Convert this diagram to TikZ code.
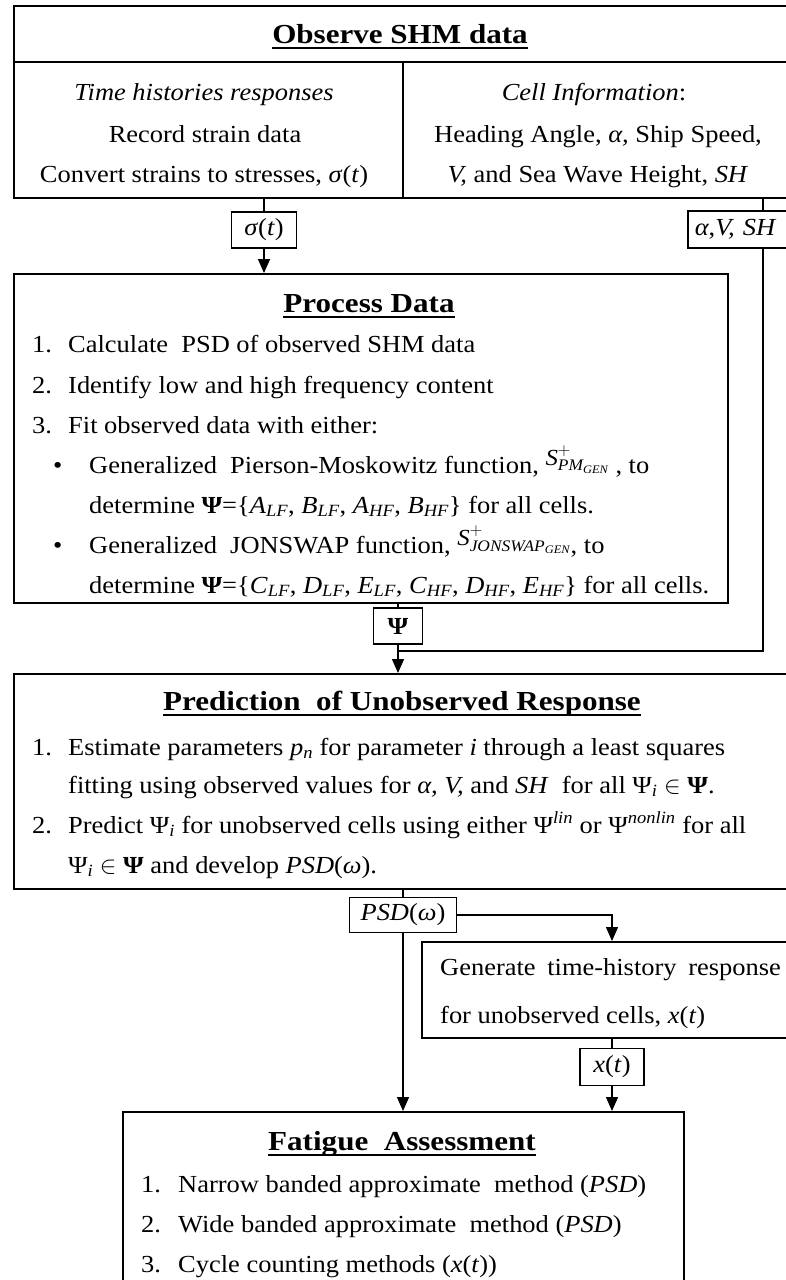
\documentclass[tikz,border=0pt]{standalone}
\usepackage{amsmath}
\usepackage{fontspec}
\setmainfont{Liberation Serif}[FakeStretch=1.08]
\newfontfamily\headfont{Liberation Serif}[FakeStretch=1.13]
\usetikzlibrary{arrows.meta}

% text sizes
\newcommand{\bodysize}{\fontsize{24.5}{30}\selectfont}
\newcommand{\headsize}{\headfont\fontsize{27.5}{32}\selectfont\bfseries}
% heading with a heavy underline
\newcommand{\heading}[1]{\setbox0\hbox{#1}\rlap{\rule[-6pt]{\wd0}{2.4pt}}\box0}
% italic subscript / superscript in running text
\newcommand{\isub}[1]{$_{\textit{#1}}$}
\newcommand{\isup}[1]{$^{\textit{#1}}$}
\newcommand{\spec}[1]{\raisebox{8pt}{\fontsize{23}{23}\selectfont$\textit{S}^{+}_{\textit{#1}_{\textit{GEN}}}$}}

\tikzset{
  box/.style={draw, line width=1.6pt, inner sep=0pt, anchor=north west},
  tag/.style={draw, line width=1.6pt, inner sep=0pt, font=\bodysize},
  txt/.style={inner sep=0pt, font=\bodysize},
  head/.style={inner sep=0pt, font=\headsize, anchor=base},
  link/.style={line width=1.4pt},
  arr/.style={line width=1.4pt, -{Triangle[width=12pt,length=14pt]}},
}

\begin{document}
\begin{tikzpicture}[x=1pt,y=-1pt]
\useasboundingbox (0,0) rectangle (786,1280);
\clip (0,0) rectangle (786,1280);

% ---------- Observe SHM data ----------
\node[box, minimum width=800pt, minimum height=192pt] (obs) at (13,5) {};
\draw[line width=1.6pt] (13,62) -- (813,62);
\draw[line width=1.6pt] (403,62) -- (403,197);
\node[head] (obsT) at (400,43) {\heading{Observe SHM data}};
\node[txt, anchor=base] (o1) at (204,100) {\textit{Time histories responses}};
\node[txt, anchor=base] (o2) at (205,142) {Record strain data};
\node[txt, anchor=base] (o3) at (204,182) {Convert strains to stresses, \textit{σ}(\textit{t})};
\node[txt, anchor=base] (c1) at (594,100) {\textit{Cell Information}:};
\node[txt, anchor=base] (c2) at (598,142) {Heading Angle, \textit{α,} Ship Speed,};
\node[txt, anchor=base] (c3) at (598,182) {\textit{V,} and Sea Wave Height, \textit{SH}};

% ---------- transferred quantities ----------
\node[tag, minimum width=65pt, minimum height=36pt] (sig) at (264,230) {\textit{σ}(\textit{t})};
\node[tag, anchor=north west, minimum width=115pt, minimum height=37pt, align=left,
      text width=101pt, inner xsep=7pt] (avs) at (687,210) {\textit{α},\textit{V, SH}};
\coordinate (avsx) at (763,0);

% ---------- Process Data ----------
\node[box, minimum width=714pt, minimum height=329pt] (proc) at (13,273) {};
\node[head] (procT) at (369,312) {\heading{Process Data}};
\node[txt, anchor=base west] (p1n) at (32,352) {1.};
\node[txt, anchor=base west] (p1) at (68,352) {Calculate\ \ PSD of observed SHM data};
\node[txt, anchor=base west] (p2n) at (32,393) {2.};
\node[txt, anchor=base west] (p2) at (68,393) {Identify low and high frequency content};
\node[txt, anchor=base west] (p3n) at (32,433) {3.};
\node[txt, anchor=base west] (p3) at (68,433) {Fit observed data with either:};
\node[txt, anchor=base west] (b1n) at (53,473) {•};
\node[txt, anchor=base west] (b1) at (89,473) {Generalized\ \ Pierson-Moskowitz function, \spec{PM}\ , to};
\node[txt, anchor=base west] (b1b) at (89,513) {determine \textbf{Ψ}=\{\textit{A}\isub{LF}, \textit{B}\isub{LF}, \textit{A}\isub{HF}, \textit{B}\isub{HF}\} for all cells.};
\node[txt, anchor=base west] (b2n) at (53,553) {•};
\node[txt, anchor=base west] (b2) at (89,553) {Generalized\ \ JONSWAP function, \spec{JONSWAP}, to};
\node[txt, anchor=base west] (b2b) at (89,593) {determine \textbf{Ψ}=\{\textit{C}\isub{LF}, \textit{D}\isub{LF}, \textit{E}\isub{LF}, \textit{C}\isub{HF}, \textit{D}\isub{HF}, \textit{E}\isub{HF}\} for all cells.};

\node[tag, minimum width=49pt, minimum height=36pt, font=\bodysize\bfseries] (psi) at (398,626) {Ψ};
\coordinate (join) at (398,651);

% ---------- Prediction of Unobserved Response ----------
\node[box, minimum width=800pt, minimum height=215pt] (pred) at (13,673) {};
\node[head] (predT) at (402,710) {\heading{Prediction\ \ of Unobserved Response}};
\node[txt, anchor=base west] (r1n) at (32,755) {1.};
\node[txt, anchor=base west] (r1) at (68,755) {Estimate parameters \textit{p}\isub{n} for parameter \textit{i} through a least squares};
\node[txt, anchor=base west] (r1b) at (68,793) {fitting using observed values for \textit{α, V,} and \textit{SH}\ \ for all Ψ\isub{i} $\in$ \textbf{Ψ}.};
\node[txt, anchor=base west] (r2n) at (32,833) {2.};
\node[txt, anchor=base west] (r2) at (68,833) {Predict Ψ\isub{i} for unobserved cells using either Ψ\isup{lin} or Ψ\isup{nonlin} for all};
\node[txt, anchor=base west] (r2b) at (68,873) {Ψ\isub{i} $\in$ \textbf{Ψ} and develop \textit{PSD}(\textit{ω}).};

\node[tag, minimum width=107pt, minimum height=35pt] (psd) at (403,915) {\textit{PSD}(\textit{ω})};

% ---------- time-history generation ----------
\node[box, minimum width=400pt, minimum height=96pt] (gen) at (421,941) {};
\node[txt, anchor=base west] (g1) at (440,975) {Generate\hspace{5pt} time-history\hspace{5pt} response};
\node[txt, anchor=base west] (g2) at (440,1023) {for unobserved cells, \textit{x}(\textit{t})};

\node[tag, minimum width=64pt, minimum height=37pt] (xt) at (612,1067) {\textit{x}(\textit{t})};

% ---------- Fatigue Assessment ----------
\node[box, minimum width=561pt, minimum height=200pt] (fat) at (122,1111) {};
\node[head] (fatT) at (402,1150) {\heading{Fatigue\ \ Assessment}};
\node[txt, anchor=base west] (f1n) at (141,1192) {1.};
\node[txt, anchor=base west] (f1) at (178,1192) {Narrow banded approximate\ \ method (\textit{PSD})};
\node[txt, anchor=base west] (f2n) at (141,1232) {2.};
\node[txt, anchor=base west] (f2) at (178,1232) {Wide banded approximate\ \ method (\textit{PSD})};
\node[txt, anchor=base west] (f3n) at (141,1272) {3.};
\node[txt, anchor=base west] (f3) at (178,1272) {Cycle counting methods (\textit{x}(\textit{t}))};

% ---------- connectors ----------
\draw[link] (obs.south -| sig) -- (sig.north);
\draw[arr] (sig.south) -- (sig.south |- proc.north);
\draw[link] (avsx |- obs.south) -- (avsx |- avs.north);
\draw[link] (avsx |- avs.south) |- (join);
\draw[link] (proc.south -| psi) -- (psi.north);
\draw[arr] (psi.south) -- (psi.south |- pred.north);
\draw[link] (pred.south -| psd) -- (psd.north);
\draw[arr] (psd.east) -| (gen.north -| xt);
\draw[arr] (psd.south) -- (psd.south |- fat.north);
\draw[link] (gen.south -| xt) -- (xt.north);
\draw[arr] (xt.south) -- (xt.south |- fat.north);
\end{tikzpicture}
\end{document}
